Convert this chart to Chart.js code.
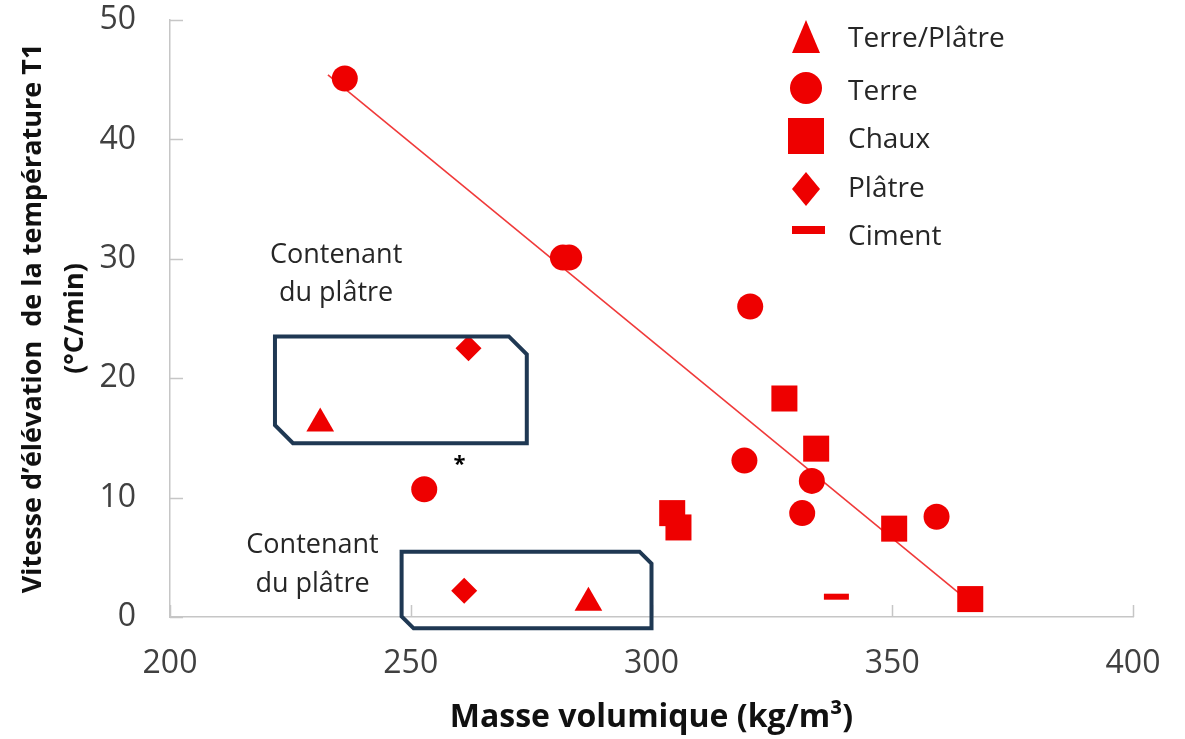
<!DOCTYPE html>
<html>
<head>
<meta charset="utf-8">
<script src="https://cdn.jsdelivr.net/npm/chart.js@4/dist/chart.umd.min.js"></script>
<style>
  html, body { margin: 0; padding: 0; background: #fff; }
  #wrap { width: 1185px; height: 739px; }
</style>
</head>
<body>
<div id="wrap"><canvas id="chart" width="1185" height="739"></canvas></div>
<script>
// values
const terrePlatreX = [231.2, 286.9];
const terrePlatreY = [16.2, 1.2];
const terreX = [236.3, 281.6, 282.9, 320.5, 319.3, 333.3, 331.3, 359.2, 252.8];
const terreY = [45.1, 30.1, 30.1, 26.0, 13.1, 11.4, 8.7, 8.4, 10.7];
const chauxX = [327.6, 334.2, 304.3, 305.6, 350.4, 366.2];
const chauxY = [18.3, 14.1, 8.7, 7.5, 7.4, 1.5];
const platreX = [262.0, 261.1];
const platreY = [22.5, 2.2];
const cimentX = [338.4];
const cimentY = [1.7];
const trendX = [232.8, 365.7];
const trendY = [45.4, 1.4];

const xTicks = [200, 250, 300, 350, 400];
const yTicks = [0, 10, 20, 30, 40, 50];

// "Contenant du plâtre" boxes, in data units
const boxes = [
    { x0: 221.8, x1: 274.1, y0: 14.55, y1: 23.5, cut: 18, text: [234.5, 30.3, 27.1] },
    { x0: 248.1, x1: 300.0, y0: -0.95, y1: 5.47, cut: 12, text: [229.6, 6.0, 2.7] }
];
const starX = 260.1, starY = 13.1;

const RED = '#ee0000';
const AXIS = '#c6c6c6';
const FONT = "'Open Sans', 'Noto Sans', sans-serif";

function pts(xs, ys) {
    return xs.map((x, i) => ({ x: x, y: ys[i] }));
}

const insideTicks = {
    id: 'insideTicks',
    beforeDatasetsDraw(chart) {
        const ctx = chart.ctx;
        const xs = chart.scales.x, ys = chart.scales.y;
        ctx.save();
        ctx.strokeStyle = AXIS;
        ctx.lineWidth = 1.5;
        ctx.beginPath();
        yTicks.forEach(v => {
            const py = Math.round(ys.getPixelForValue(v)) + 0.5;
            ctx.moveTo(xs.left, py);
            ctx.lineTo(xs.left + 13, py);
        });
        xTicks.forEach(v => {
            const px = Math.round(xs.getPixelForValue(v)) + 0.5;
            ctx.moveTo(px, ys.bottom);
            ctx.lineTo(px, ys.bottom - 12);
        });
        ctx.stroke();
        ctx.restore();
    }
};

const notes = {
    id: 'notes',
    afterDatasetsDraw(chart) {
        const ctx = chart.ctx;
        const xs = chart.scales.x, ys = chart.scales.y;
        ctx.save();
        // boxes
        ctx.strokeStyle = '#1f3853';
        ctx.lineWidth = 4;
        ctx.lineJoin = 'miter';
        boxes.forEach(b => {
            const L = xs.getPixelForValue(b.x0), R = xs.getPixelForValue(b.x1);
            const T = ys.getPixelForValue(b.y1), B = ys.getPixelForValue(b.y0);
            const c = b.cut;
            ctx.beginPath();
            ctx.moveTo(L, T);
            ctx.lineTo(R - c, T);
            ctx.lineTo(R, T + c);
            ctx.lineTo(R, B);
            ctx.lineTo(L + c, B);
            ctx.lineTo(L, B - c);
            ctx.closePath();
            ctx.stroke();
        });
        // labels
        ctx.fillStyle = '#262626';
        ctx.font = '27px ' + FONT;
        ctx.textAlign = 'center';
        ctx.textBaseline = 'middle';
        boxes.forEach(b => {
            const cx = xs.getPixelForValue(b.text[0]);
            ctx.fillText('Contenant', cx, ys.getPixelForValue(b.text[1]));
            ctx.fillText('du plâtre', cx, ys.getPixelForValue(b.text[2]));
        });
        ctx.fillStyle = '#000';
        ctx.font = 'bold 22px ' + FONT;
        ctx.fillText('*', xs.getPixelForValue(starX), ys.getPixelForValue(starY) + 4);
        ctx.restore();
    }
};

// legend drawn by hand, markers follow the reference shapes
const sideLegend = {
    id: 'sideLegend',
    afterDraw(chart) {
        const ctx = chart.ctx;
        const items = chart.data.datasets.filter(d => d.inLegend);
        const mx = 806, tx = 848;
        const rows = [37, 88, 136, 189, 230];
        const base = [47, 100, 148, 197, 245];
        ctx.save();
        items.forEach((d, i) => {
            const y = rows[i];
            ctx.fillStyle = RED;
            ctx.beginPath();
            if (d.pointStyle === 'triangle') {
                ctx.moveTo(mx, y - 17);
                ctx.lineTo(mx + 14, y + 16);
                ctx.lineTo(mx - 14, y + 16);
                ctx.closePath();
                ctx.fill();
            } else if (d.pointStyle === 'circle') {
                ctx.arc(mx, y, 16, 0, Math.PI * 2);
                ctx.fill();
            } else if (d.pointStyle === 'rect') {
                ctx.rect(mx - 18, y - 18, 36, 36);
                ctx.fill();
            } else if (d.pointStyle === 'rectRot') {
                ctx.moveTo(mx, y - 17);
                ctx.lineTo(mx + 14, y);
                ctx.lineTo(mx, y + 17);
                ctx.lineTo(mx - 14, y);
                ctx.closePath();
                ctx.fill();
            } else {
                ctx.rect(mx - 14, y - 4, 33, 8);
                ctx.fill();
            }
            ctx.fillStyle = '#262626';
            ctx.font = '28px ' + FONT;
            ctx.textAlign = 'left';
            ctx.textBaseline = 'alphabetic';
            ctx.fillText(d.label, tx, base[i]);
        });
        ctx.restore();
    }
};

new Chart(document.getElementById('chart'), {
    type: 'scatter',
    data: {
        datasets: [
            {
                label: 'Terre/Plâtre', inLegend: true,
                data: pts(terrePlatreX, terrePlatreY),
                pointStyle: 'triangle', pointRadius: 16,
                backgroundColor: RED, borderColor: RED, borderWidth: 0, clip: false
            },
            {
                label: 'Terre', inLegend: true,
                data: pts(terreX, terreY),
                pointStyle: 'circle', pointRadius: 13,
                backgroundColor: RED, borderColor: RED, borderWidth: 0, clip: false
            },
            {
                label: 'Chaux', inLegend: true,
                data: pts(chauxX, chauxY),
                pointStyle: 'rect', pointRadius: 18.4,
                backgroundColor: RED, borderColor: RED, borderWidth: 0, clip: false
            },
            {
                label: 'Plâtre', inLegend: true,
                data: pts(platreX, platreY),
                pointStyle: 'rectRot', pointRadius: 13,
                backgroundColor: RED, borderColor: RED, borderWidth: 0, clip: false
            },
            {
                label: 'Ciment', inLegend: true,
                data: pts(cimentX, cimentY),
                pointStyle: 'line', pointRadius: 12.5,
                backgroundColor: RED, borderColor: RED, borderWidth: 6, clip: false
            },
            {
                label: 'trend',
                data: pts(trendX, trendY),
                showLine: true, pointRadius: 0,
                borderColor: '#f03a3a', borderWidth: 1.6, order: 10
            }
        ]
    },
    options: {
        responsive: false,
        animation: false,
        events: [],
        layout: { padding: { top: 20, right: 52, left: 0, bottom: 0 } },
        plugins: {
            legend: { display: false },
            tooltip: { enabled: false }
        },
        scales: {
            x: {
                type: 'linear', min: 200, max: 400,
                afterBuildTicks: s => { s.ticks = xTicks.map(v => ({ value: v })); },
                afterFit: s => { s.height = 122; s.paddingLeft = 0; s.paddingRight = 0; },
                grid: { display: false, drawTicks: false },
                border: { display: true, color: AXIS, width: 1.5 },
                ticks: { padding: 28, color: '#404040', font: { family: FONT, size: 32 } },
                title: {
                    display: true,
                    text: 'Masse volumique (kg/m³)',
                    color: '#111',
                    font: { family: FONT, size: 32, weight: 'bold' },
                    padding: { top: 0, bottom: 2 }
                }
            },
            y: {
                type: 'linear', min: 0, max: 50,
                afterBuildTicks: s => { s.ticks = yTicks.map(v => ({ value: v })); },
                afterFit: s => { s.width = 170; s.paddingTop = 0; s.paddingBottom = 0; },
                grid: { display: false, drawTicks: false },
                border: { display: true, color: AXIS, width: 1.5 },
                ticks: { padding: 34, color: '#404040', font: { family: FONT, size: 32 } },
                title: {
                    display: true,
                    text: ['Vitesse d’élévation  de la température T1', '(°C/min)'],
                    color: '#111',
                    font: { family: FONT, size: 27, weight: 'bold', lineHeight: 1.556 },
                    padding: { top: 12, bottom: 0 }
                }
            }
        }
    },
    plugins: [insideTicks, notes, sideLegend]
});
</script>
</body>
</html>
